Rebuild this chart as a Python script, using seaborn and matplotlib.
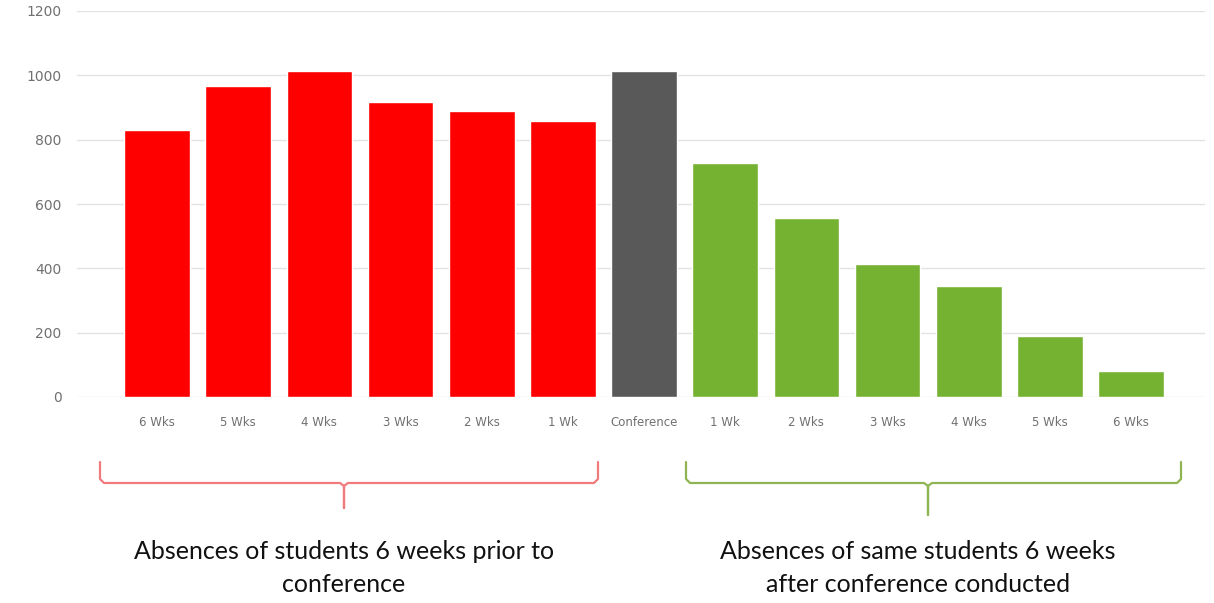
import matplotlib
matplotlib.use("Agg")
import matplotlib.pyplot as plt
from matplotlib.lines import Line2D
import seaborn as sns
import pandas as pd

# Weekly absence counts around the conference
slots = ["b6", "b5", "b4", "b3", "b2", "b1", "conf", "a1", "a2", "a3", "a4", "a5", "a6"]
tick_labels = ["6 Wks", "5 Wks", "4 Wks", "3 Wks", "2 Wks", "1 Wk", "Conference",
               "1 Wk", "2 Wks", "3 Wks", "4 Wks", "5 Wks", "6 Wks"]
absences = [830, 967, 1013, 917, 889, 858, 1013, 727, 556, 413, 345, 190, 81]
periods = ["Before"] * 6 + ["Conference"] + ["After"] * 6
period_colors = {"Before": "#ff0000", "Conference": "#595959", "After": "#76b232"}

df = pd.DataFrame({"slot": slots, "absences": absences, "period": periods})

sns.set_theme(style="white")
plt.rcParams["font.family"] = ["DejaVu Sans"]

W, H = 1214, 603
fig = plt.figure(figsize=(W / 100, H / 100), dpi=100)
fig.patch.set_facecolor("white")


def fx(px):
    return px / W


def fy(py):
    return 1 - py / H


ax = fig.add_axes([fx(77), fy(397), fx(1205) - fx(77), fy(11) - fy(397)])

sns.barplot(data=df, x="slot", y="absences", hue="period", order=slots,
            palette=period_colors, dodge=False, width=0.81, saturation=1,
            legend=False, ax=ax, zorder=3)

ax.set_ylim(0, 1200)
ax.set_yticks(range(0, 1201, 200))
ax.set_xlim(-0.986, 12.91)
ax.set_xticks(range(len(slots)))
ax.set_xticklabels(tick_labels)
ax.set_xlabel("")
ax.set_ylabel("")
ax.grid(axis="y", color="#e3e3e3", linewidth=1, zorder=0)
ax.set_axisbelow(True)
for sp in ax.spines.values():
    sp.set_visible(False)
ax.tick_params(axis="x", length=0, pad=14, labelsize=8.5, labelcolor="#707070")
ax.tick_params(axis="y", length=0, pad=11, labelsize=10, labelcolor="#707070")


def brace(x0, x1, xm, ytop, ymid, ytip, color):
    r = 4
    pts_x = [x0, x0, x0 + r, xm - r, xm, xm, xm, xm + r, x1 - r, x1, x1]
    pts_y = [ytop, ymid - r, ymid, ymid, ymid + 3, ytip, ymid + 3, ymid, ymid, ymid - r, ytop]
    fig.add_artist(Line2D([fx(p) for p in pts_x], [fy(p) for p in pts_y],
                          transform=fig.transFigure, color=color, linewidth=1.6,
                          solid_joinstyle="round", solid_capstyle="round"))


brace(100, 598, 344, 462, 483, 508, "#f07a7c")
brace(686, 1181, 928, 462, 483, 515, "#8fb552")

cap_font = ["Lato", "DejaVu Sans"]
fig.text(fx(344), fy(568), "Absences of students 6 weeks prior to\nconference",
         ha="center", va="center", fontsize=18, family=cap_font, color="#111111",
         linespacing=1.55)
fig.text(fx(918), fy(568), "Absences of same students 6 weeks\nafter conference conducted",
         ha="center", va="center", fontsize=18, family=cap_font, color="#111111",
         linespacing=1.55)

fig.savefig("out.png", dpi=100, facecolor="white")
